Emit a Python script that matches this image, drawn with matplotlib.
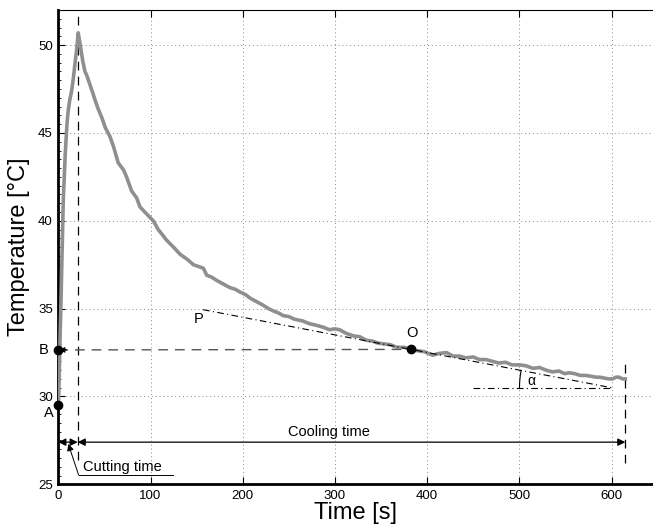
import matplotlib
matplotlib.use("Agg")
import matplotlib.pyplot as plt
import numpy as np

plt.rcParams["font.family"] = ["Liberation Sans", "DejaVu Sans"]

# temperature record
time_s = [0, 0.6, 1.1, 1.8, 2.9, 4.0, 5.4, 7.5, 9.5, 10.8, 12.5, 14.5, 16.5, 18.0, 20.0, 21.6,
          23.5, 26.5, 28.9, 30.7, 34.0, 37.9, 39.7, 43.0, 47.0, 51.0, 56.0, 60.0, 65.0, 70.7,
          74.0, 79.5, 85.0, 88.5, 92.0, 99.3, 103.0, 108.4, 113.0, 117.4, 125.0, 132.0, 140.0,
          146.5, 152.0, 157.3, 161.0, 166.0, 172.0, 179.0, 186.0, 192.0, 197.0, 203.0, 208.0,
          215.0, 222.0, 228.0, 234.0, 239.0, 244.0, 250.0, 256.0, 265.0, 272.0, 280.0, 287.0,
          294.0, 300.0, 305.0, 312.0, 320.0, 327.0, 334.0, 341.0, 346.0, 352.0, 360.0, 367.0,
          375.0, 383.0, 390.0, 397.0, 406.0, 413.0, 421.0, 428.0, 435.0, 442.0, 450.0, 457.0,
          464.0, 471.0, 478.0, 485.0, 492.0, 500.0, 507.0, 515.0, 522.0, 529.0, 536.0, 543.0,
          549.0, 554.0, 560.0, 566.0, 572.0, 578.0, 583.0, 587.0, 592.0, 597.0, 601.0, 605.0,
          608.0, 612.0, 615.0]
temp_c = [29.5, 30.4, 31.5, 33.2, 35.4, 38.0, 41.2, 43.8, 45.6, 46.3, 46.9, 47.4, 48.2, 48.9, 49.8, 50.7,
          50.1, 49.1, 48.5, 48.3, 47.8, 47.2, 46.9, 46.4, 45.9, 45.3, 44.8, 44.2, 43.3, 42.9,
          42.5, 41.7, 41.3, 40.8, 40.6, 40.2, 40.0, 39.5, 39.2, 38.9, 38.5, 38.1, 37.8,
          37.5, 37.4, 37.3, 36.9, 36.8, 36.6, 36.4, 36.2, 36.1, 35.95, 35.8, 35.6,
          35.4, 35.2, 35.0, 34.85, 34.75, 34.6, 34.55, 34.4, 34.3, 34.15, 34.05, 33.95,
          33.8, 33.85, 33.8, 33.6, 33.45, 33.4, 33.2, 33.15, 33.05, 33.0, 32.95, 32.8,
          32.8, 32.7, 32.6, 32.55, 32.35, 32.45, 32.5, 32.3, 32.3, 32.2, 32.25, 32.1,
          32.1, 32.0, 31.9, 31.95, 31.8, 31.8, 31.75, 31.6, 31.65, 31.5, 31.4, 31.45,
          31.3, 31.35, 31.3, 31.2, 31.2, 31.15, 31.1, 31.1, 31.05, 31.0, 31.0, 31.1,
          31.1, 31.0, 31.0]

# annotation values
t_cut_end = 21.0
t_end = 615.0
pt_A = (0.0, 29.5)
pt_B = (0.0, 32.65)
pt_O = (383.0, 32.68)
tangent_t = [157.0, 600.0]
tangent_T = [34.94, 30.5]
alpha_base_t = [450.0, 600.0]
alpha_base_T = [30.5, 30.5]

fig = plt.figure(figsize=(6.53, 5.27), dpi=100)
ax = fig.add_axes([0.0893, 0.081, 0.9107, 0.9])

ax.plot(time_s, temp_c, color="#8f8f8f", lw=2.6, solid_joinstyle="round", zorder=3)

# guide lines
ax.plot([t_cut_end, t_cut_end], [26.4, 51.7], color="k", lw=0.9, ls=(0, (7, 5)), zorder=2)
ax.plot([t_end, t_end], [26.2, 32.0], color="k", lw=0.9, ls=(0, (7, 5)), zorder=2)
ax.plot([pt_B[0], pt_O[0]], [pt_B[1], pt_O[1]], color="#555555", lw=1.0, ls=(0, (7, 5)), zorder=2)
ax.plot(tangent_t, tangent_T, color="k", lw=0.8, ls=(0, (6, 3, 1, 3)), zorder=4)
ax.plot(alpha_base_t, alpha_base_T, color="k", lw=0.8, ls=(0, (6, 3, 1, 3)), zorder=4)

# alpha arc, round on screen, centred where the tangent meets its base line
px_t = 0.9107 * 653 / 645
px_T = 0.9 * 527 / 27
ang = np.arctan(-(tangent_T[1] - tangent_T[0]) / (tangent_t[1] - tangent_t[0]) * px_T / px_t)
phi = np.linspace(np.pi - ang, np.pi, 20)
r_px = 92.0
ax.plot(tangent_t[1] + r_px * np.cos(phi) / px_t, alpha_base_T[0] + r_px * np.sin(phi) / px_T,
        color="k", lw=0.8, zorder=4)
ax.text(513, 30.9, "α", fontsize=10, ha="center", va="center")

# points
ax.plot([pt_A[0], pt_B[0], pt_O[0]], [pt_A[1], pt_B[1], pt_O[1]], "o", color="k", ms=6,
        zorder=5, clip_on=False)
ax.annotate("", xy=(pt_B[0] + 1, pt_B[1]), xytext=(9, pt_B[1]),
            arrowprops=dict(arrowstyle="-|>", color="k", lw=0.8, mutation_scale=8,
                            shrinkA=0, shrinkB=0), zorder=6)
ax.text(-15.5, pt_B[1], "B", fontsize=10.5, ha="center", va="center")
ax.text(-10.7, 29.07, "A", fontsize=10.5, ha="center", va="center")
ax.text(384, 33.6, "O", fontsize=10.5, ha="center", va="center")
ax.text(151.7, 34.43, "P", fontsize=10.5, ha="center", va="center")

# time arrows
arr = dict(arrowstyle="<|-|>", color="k", lw=0.9, mutation_scale=11, shrinkA=0, shrinkB=0)
ax.annotate("", xy=(0, 27.4), xytext=(t_cut_end, 27.4), arrowprops=arr)
ax.annotate("", xy=(t_cut_end, 27.4), xytext=(t_end, 27.4), arrowprops=arr)
ax.text(294, 27.95, "Cooling time", fontsize=10.5, ha="center", va="center")

ax.text(70, 26.0, "Cutting time", fontsize=10.5, ha="center", va="center")
ax.plot([22, 124.6], [25.53, 25.53], color="k", lw=0.7)
ax.annotate("", xy=(10.8, 27.3), xytext=(22, 25.53),
            arrowprops=dict(arrowstyle="-|>", color="k", lw=0.7, mutation_scale=10,
                            shrinkA=0, shrinkB=0))

ax.set_xlim(0, 645)
ax.set_ylim(25, 52)
ax.set_xticks(np.arange(0, 601, 100))
ax.set_yticks(np.arange(25, 51, 5))
ax.set_yticks(np.arange(25, 52, 0.5), minor=True)
ax.tick_params(axis="both", which="major", direction="in", labelsize=9.5, length=5,
               top=True, pad=4)
ax.tick_params(axis="y", which="minor", direction="in", length=2)
ax.grid(True, which="major", color="#888888", ls=(0, (1, 3)), lw=0.7)
ax.spines["right"].set_visible(False)
ax.spines["top"].set_linewidth(0.8)
ax.spines["left"].set_linewidth(2)
ax.spines["bottom"].set_linewidth(2)

ax.set_xlabel("Time [s]", fontsize=17, labelpad=0)
ax.set_ylabel("Temperature [°C]", fontsize=17, labelpad=6)

fig.savefig("out.png", dpi=100)
